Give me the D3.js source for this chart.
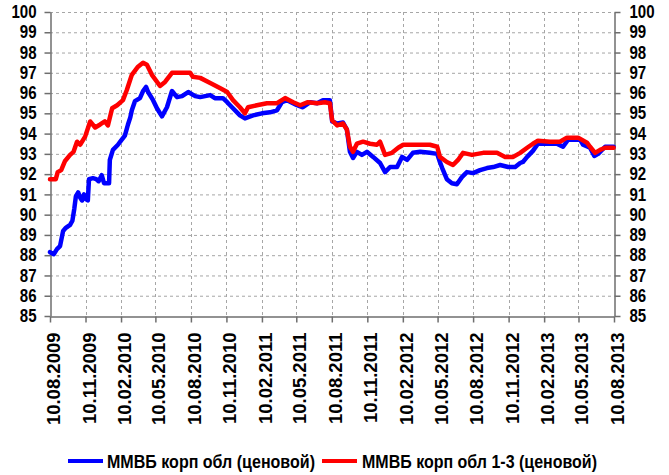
<!DOCTYPE html>
<html>
<head>
<meta charset="utf-8">
<script src="https://cdn.jsdelivr.net/npm/d3@7"></script>
<style>
  html, body { margin: 0; padding: 0; background: #fff; }
  svg { display: block; }
</style>
</head>
<body>
<svg id="chart" width="669" height="475"></svg>
<script>
// ММВБ корп обл (ценовой)
const blueDates = [
  "2009-08-10","2009-08-20","2009-08-28","2009-09-05","2009-09-13","2009-09-20","2009-10-01","2009-10-07",
  "2009-10-12","2009-10-16","2009-10-22","2009-10-27","2009-11-01","2009-11-06","2009-11-12","2009-11-16",
  "2009-11-19","2009-11-29","2009-12-08","2009-12-14","2009-12-22","2009-12-28","2010-01-10","2010-01-12",
  "2010-01-20","2010-02-02","2010-02-08","2010-02-20","2010-02-28","2010-03-06","2010-03-10","2010-03-18",
  "2010-03-31","2010-04-08","2010-04-16","2010-04-21","2010-05-04","2010-05-14","2010-05-27","2010-06-09",
  "2010-06-22","2010-07-05","2010-07-18","2010-08-03","2010-08-21","2010-09-03","2010-09-29","2010-10-11",
  "2010-11-01","2010-11-12","2010-11-27","2010-12-15","2010-12-28","2011-01-18","2011-02-10","2011-03-03",
  "2011-03-21","2011-04-03","2011-04-16","2011-05-12","2011-05-27","2011-06-15","2011-07-03","2011-07-18",
  "2011-08-05","2011-08-11","2011-08-24","2011-09-08","2011-09-18","2011-09-26","2011-10-04","2011-10-14",
  "2011-10-27","2011-11-09","2011-11-25","2011-12-13","2011-12-26","2012-01-08","2012-01-26","2012-02-08",
  "2012-02-21","2012-03-07","2012-03-26","2012-04-20","2012-05-09","2012-05-16","2012-05-22","2012-06-03",
  "2012-06-16","2012-06-29","2012-07-12","2012-07-25","2012-08-10","2012-08-28","2012-09-15","2012-10-01",
  "2012-10-19","2012-11-09","2012-11-27","2012-12-10","2012-12-17","2012-12-28","2013-01-12","2013-01-25",
  "2013-02-12","2013-03-15","2013-03-31","2013-04-13","2013-05-14","2013-05-22","2013-06-09","2013-06-20",
  "2013-06-30","2013-07-18","2013-08-09"
];
const blueValues = [
  88.15, 88.05, 88.3, 88.45, 89.2, 89.35, 89.5, 89.7,
  90.3, 90.9, 91.1, 90.85, 90.7, 91.0, 90.75, 90.7,
  91.75, 91.8, 91.75, 91.65, 91.95, 91.55, 91.55, 92.7,
  93.2, 93.45, 93.6, 93.9, 94.45, 94.8, 95.15, 95.6,
  95.75, 96.1, 96.3, 96.05, 95.65, 95.25, 94.85, 95.3,
  96.1, 95.8, 95.85, 96.05, 95.85, 95.8, 95.9, 95.75,
  95.75, 95.55, 95.25, 94.9, 94.75, 94.9, 95.0, 95.05,
  95.15, 95.55, 95.65, 95.4, 95.3, 95.55, 95.5, 95.65,
  95.65, 94.6, 94.5, 94.55, 94.2, 93.1, 92.8, 93.1,
  92.95, 93.1, 92.85, 92.55, 92.1, 92.35, 92.35, 92.85,
  92.7, 93.05, 93.1, 93.05, 93.0, 92.6, 92.3, 91.75,
  91.55, 91.5, 91.85, 92.1, 92.05, 92.2, 92.3, 92.35,
  92.45, 92.35, 92.35, 92.55, 92.6, 92.85, 93.15, 93.5,
  93.5, 93.5, 93.35, 93.7, 93.7, 93.45, 93.3, 92.9,
  93.0, 93.35, 93.35
];

// ММВБ корп обл 1-3 (ценовой)
const redDates = [
  "2009-08-10","2009-08-25","2009-08-30","2009-09-08","2009-09-18","2009-10-01","2009-10-10","2009-10-19",
  "2009-10-27","2009-11-09","2009-11-22","2009-12-05","2009-12-18","2009-12-30","2010-01-07","2010-01-18",
  "2010-01-31","2010-02-15","2010-02-25","2010-03-10","2010-03-26","2010-04-08","2010-04-18","2010-05-01",
  "2010-05-22","2010-06-04","2010-06-22","2010-07-08","2010-07-26","2010-08-08","2010-08-15","2010-09-03",
  "2010-09-29","2010-10-24","2010-11-12","2010-11-27","2010-12-15","2010-12-28","2011-01-05","2011-01-28",
  "2011-02-23","2011-03-21","2011-04-11","2011-05-02","2011-05-20","2011-06-09","2011-07-03","2011-07-23",
  "2011-08-05","2011-08-11","2011-08-24","2011-09-08","2011-09-18","2011-09-26","2011-10-04","2011-10-14",
  "2011-10-30","2011-11-17","2011-12-05","2011-12-13","2011-12-26","2012-01-13","2012-01-29","2012-02-11",
  "2012-03-18","2012-04-20","2012-05-09","2012-05-16","2012-06-03","2012-06-19","2012-07-02","2012-07-15",
  "2012-08-07","2012-09-05","2012-10-11","2012-11-01","2012-11-22","2012-12-10","2012-12-28","2013-01-12",
  "2013-01-25","2013-02-25","2013-03-23","2013-04-10","2013-05-09","2013-06-01","2013-06-09","2013-06-22",
  "2013-07-05","2013-07-18","2013-08-09"
];
const redValues = [
  91.75, 91.75, 92.1, 92.2, 92.65, 92.95, 93.1, 93.6,
  93.45, 93.85, 94.6, 94.3, 94.45, 94.6, 94.4, 95.25,
  95.4, 95.65, 96.15, 96.9, 97.3, 97.5, 97.4, 96.9,
  96.35, 96.55, 97.0, 97.0, 97.0, 97.0, 96.8, 96.75,
  96.5, 96.25, 96.05, 95.65, 95.3, 95.0, 95.3, 95.4,
  95.5, 95.5, 95.75, 95.55, 95.4, 95.55, 95.5, 95.55,
  95.5, 94.65, 94.4, 94.5, 94.2, 93.35, 93.1, 93.5,
  93.6, 93.5, 93.45, 93.6, 92.95, 93.05, 93.3, 93.45,
  93.45, 93.45, 93.35, 92.85, 92.6, 92.45, 92.7, 93.05,
  92.95, 93.05, 93.05, 92.85, 92.85, 93.05, 93.3, 93.5,
  93.65, 93.6, 93.6, 93.8, 93.8, 93.55, 93.35, 93.05,
  93.2, 93.3, 93.3
];

const tickDates = [
  "2009-08-10","2009-11-10","2010-02-10","2010-05-10","2010-08-10","2010-11-10","2011-02-10",
  "2011-05-10","2011-08-10","2011-11-10","2012-02-10","2012-05-10","2012-08-10","2012-11-10",
  "2013-02-10","2013-05-10","2013-08-10"
];
const yTicks = [85, 86, 87, 88, 89, 90, 91, 92, 93, 94, 95, 96, 97, 98, 99, 100];
const seriesNames = ["ММВБ корп обл (ценовой)", "ММВБ корп обл 1-3 (ценовой)"];
const seriesColors = ["#0000FF", "#FF0000"];

const parse = d3.timeParse("%Y-%m-%d");
const fmt = d3.timeFormat("%d.%m.%Y");

const svg = d3.select("#chart");
const plotLeft = 50, plotRight = 614, plotTop = 12, plotBottom = 316;

const x = d3.scaleTime()
  .domain([parse(tickDates[0]), parse(tickDates[tickDates.length - 1])])
  .range([plotLeft, plotRight]);
const y = d3.scaleLinear().domain([85, 100]).range([plotBottom, plotTop]);

const gridColor = "#a6a6a6";
const axisColor = "#6e6e6e";
const font = "'Liberation Sans', Arial, sans-serif";

// squeeze a text element horizontally to a fraction of its natural width
function condense(sel, k) {
  sel.each(function () {
    const w = this.getComputedTextLength();
    d3.select(this).attr("textLength", w * k).attr("lengthAdjust", "spacingAndGlyphs");
  });
}

// grid
const grid = svg.append("g");
grid.selectAll("line.h").data(yTicks.filter(v => v > 85)).join("line")
  .attr("x1", plotLeft).attr("x2", plotRight)
  .attr("y1", d => y(d) + 0.5).attr("y2", d => y(d) + 0.5)
  .attr("stroke", gridColor).attr("stroke-width", 1).attr("stroke-dasharray", "3,3");
grid.selectAll("line.v").data(tickDates.slice(1, -1)).join("line")
  .attr("x1", d => Math.round(x(parse(d))) + 0.5).attr("x2", d => Math.round(x(parse(d))) + 0.5)
  .attr("y1", plotTop).attr("y2", plotBottom)
  .attr("stroke", gridColor).attr("stroke-width", 1).attr("stroke-dasharray", "3,3");

// axes
const leftAxis = svg.append("g").attr("transform", `translate(${plotLeft + 0.5},0)`)
  .call(d3.axisLeft(y).tickValues(yTicks).tickSize(6).tickSizeOuter(0).tickFormat(d3.format("d")).tickPadding(8));
const rightAxis = svg.append("g").attr("transform", `translate(${plotRight + 0.5},0)`)
  .call(d3.axisRight(y).tickValues(yTicks).tickSize(6).tickSizeOuter(0).tickFormat(d3.format("d")).tickPadding(9));
[leftAxis, rightAxis].forEach(g => {
  g.select(".domain").attr("stroke", axisColor).attr("stroke-width", 1.5);
  g.selectAll(".tick line").attr("stroke", axisColor).attr("stroke-width", 1.5);
  g.selectAll(".tick text").attr("fill", "#000").attr("font-family", font)
    .attr("font-weight", "bold").attr("font-size", "17.5px")
    .call(condense, 0.86);
});

const bottomAxis = svg.append("g").attr("transform", `translate(0,${plotBottom + 0.5})`)
  .call(d3.axisBottom(x).tickValues(tickDates.map(parse)).tickSize(6).tickSizeOuter(0).tickFormat(fmt));
bottomAxis.select(".domain").attr("stroke", axisColor).attr("stroke-width", 1.5);
bottomAxis.selectAll(".tick line").attr("stroke", axisColor).attr("stroke-width", 1.5);
bottomAxis.selectAll(".tick text")
  .attr("fill", "#000").attr("font-family", font).attr("font-weight", "bold").attr("font-size", "18.5px")
  .attr("text-anchor", "end").attr("dy", null).attr("y", 0).attr("x", -16)
  .attr("dominant-baseline", "central")
  .attr("transform", "rotate(-90) translate(0,3)");

// series
const line = d3.line().x(d => x(d.date)).y(d => y(d.value));
const series = [
  blueDates.map((d, i) => ({ date: parse(d), value: blueValues[i] })),
  redDates.map((d, i) => ({ date: parse(d), value: redValues[i] }))
];
svg.append("g").selectAll("path").data(series).join("path")
  .attr("d", line)
  .attr("fill", "none")
  .attr("stroke", (d, i) => seriesColors[i])
  .attr("stroke-width", 4.5)
  .attr("stroke-linejoin", "round")
  .attr("stroke-linecap", "round");

// legend
const legendItems = [{ x: 68, tx: 107, w: 208 }, { x: 322, tx: 362, w: 235 }];
const legend = svg.append("g");
legendItems.forEach((it, i) => {
  legend.append("line").attr("x1", it.x).attr("x2", it.x + 35).attr("y1", 461).attr("y2", 461)
    .attr("stroke", seriesColors[i]).attr("stroke-width", 4);
  legend.append("text").attr("x", it.tx).attr("y", 468)
    .attr("font-family", font).attr("font-weight", "bold").attr("font-size", "17.5px")
    .attr("textLength", it.w).attr("lengthAdjust", "spacingAndGlyphs")
    .attr("fill", "#000").text(seriesNames[i]);
});
</script>
</body>
</html>
